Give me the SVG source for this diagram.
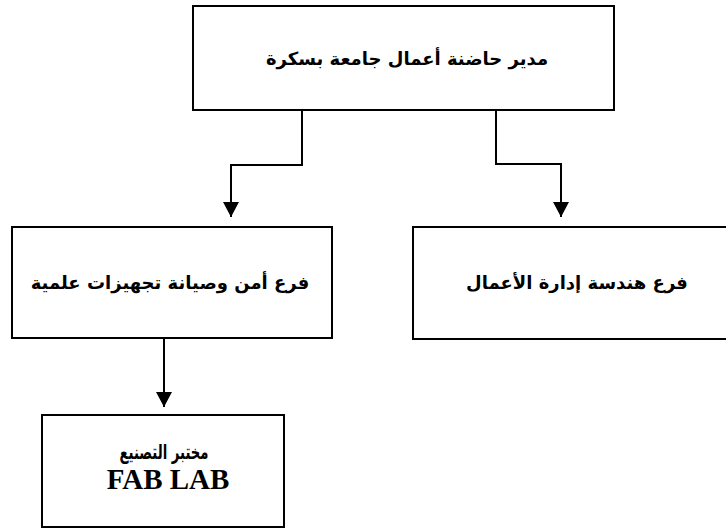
<svg xmlns="http://www.w3.org/2000/svg" width="726" height="529" viewBox="0 0 726 529">
<style>
.box{fill:#fff;stroke:#000;stroke-width:2}
.ar{font-family:"DejaVu Sans",sans-serif;font-weight:bold;font-size:18px;fill:#000;text-anchor:middle;direction:rtl}
.en{font-family:"Liberation Serif",serif;font-weight:bold;font-size:29px;fill:#000;text-anchor:middle}
.conn{fill:none;stroke:#000;stroke-width:2}
</style>
<defs>
<marker id="arr" markerUnits="userSpaceOnUse" markerWidth="16" markerHeight="16" refX="15" refY="8" orient="auto">
<path d="M0,0 L15,8 L0,16 Z" fill="#000"/>
</marker>
</defs>
<rect width="726" height="529" fill="#fff"/>
<g id="connectors">
<polyline class="conn" points="302,110 302,165 231,165 231,217" marker-end="url(#arr)"/>
<polyline class="conn" points="496,110 496,164 561,164 561,217" marker-end="url(#arr)"/>
<polyline class="conn" points="164,338 164,407" marker-end="url(#arr)"/>
</g>
<g id="n_director">
<rect class="box" x="193" y="6" width="421" height="104"/>
<text class="ar" x="407" y="65">مدير حاضنة أعمال جامعة بسكرة</text>
</g>
<g id="n_maintenance">
<rect class="box" x="12" y="227" width="320" height="111"/>
<text class="ar" x="170" y="289">فرع أمن وصيانة تجهيزات علمية</text>
</g>
<g id="n_business">
<rect class="box" x="413" y="227" width="320" height="112"/>
<text class="ar" x="577" y="289">فرع هندسة إدارة الأعمال</text>
</g>
<g id="n_fablab">
<rect class="box" x="42" y="415" width="242" height="112"/>
<text class="ar" transform="translate(164,459) scale(0.66,1)" x="0" y="0" style="font-size:20px">مختبر التصنيع</text>
<text class="en" x="168" y="489">FAB LAB</text>
</g>
</svg>
